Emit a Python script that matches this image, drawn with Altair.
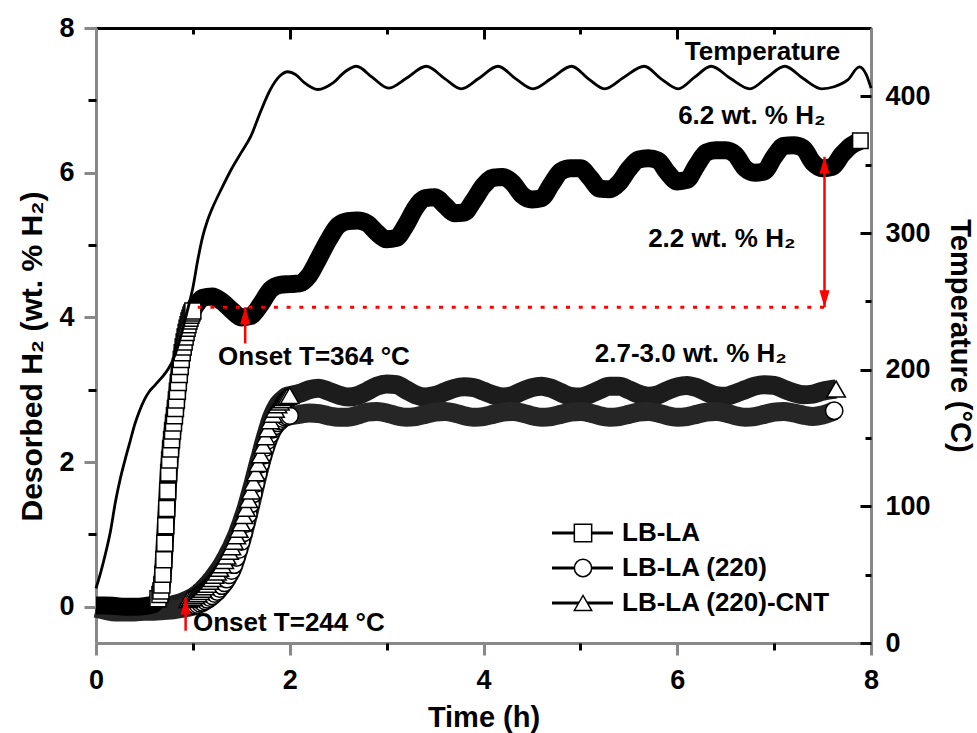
import altair as alt
import pandas as pd

# ---------------- data ----------------
temp_t = [0.0, 0.05, 0.1, 0.15, 0.2, 0.25, 0.3, 0.35, 0.4, 0.45, 0.5, 0.55, 0.6, 0.65, 0.7, 0.75,
          0.8, 0.85, 0.9, 0.95, 1.0, 1.05, 1.1, 1.15, 1.2, 1.3, 1.4, 1.5, 1.6, 1.7, 1.8, 1.9, 1.98,
          2.06, 2.15, 2.29, 2.45, 2.57, 2.69, 2.85, 3.02, 3.2, 3.41, 3.6, 3.77, 3.95, 4.15, 4.33,
          4.51, 4.7, 4.91, 5.08, 5.25, 5.45, 5.66, 5.83, 6.01, 6.18, 6.35, 6.55, 6.75, 6.93, 7.11,
          7.3, 7.49, 7.62, 7.76, 7.88, 7.95, 8.0]
temp_c = [40, 52, 66, 82, 103, 120, 134, 147, 160, 170, 178, 184, 188, 192, 196, 201,
          208, 218, 231, 245, 260, 280, 297, 309, 318, 333, 347, 359, 371, 389, 405, 415, 418,
          416, 410, 405, 410, 418, 422, 414, 406, 413, 422, 413, 405.5, 413, 422, 413,
          405.5, 413, 422, 413, 405.5, 414, 422, 413, 405.5, 414, 422, 413, 405.5, 414, 422,
          413, 405.5, 407, 412, 421.5, 416, 406]

lbla_t = [0.0, 0.1, 0.2, 0.3, 0.4, 0.5, 0.6, 0.62, 0.64, 0.66,
          0.67, 0.68, 0.69, 0.70, 0.71, 0.72, 0.73, 0.74, 0.75, 0.76, 0.77, 0.78, 0.79, 0.80,
          0.81, 0.82, 0.83, 0.84, 0.85, 0.86, 0.87, 0.88, 0.89, 0.90, 0.91, 0.92, 0.93, 0.94,
          0.95, 0.96, 0.97, 0.98, 0.99, 1.0,
          1.05, 1.1, 1.2, 1.3, 1.4, 1.5,
          1.6, 1.7, 1.8, 1.9, 2.0, 2.1, 2.2, 2.3, 2.4, 2.5, 2.6, 2.7, 2.8, 2.9, 3.0, 3.1, 3.2,
          3.3, 3.4, 3.5, 3.6, 3.7, 3.8, 3.9, 4.0, 4.1, 4.2, 4.3, 4.4, 4.5, 4.6, 4.7, 4.8, 4.9,
          5.0, 5.1, 5.2, 5.3, 5.4, 5.5, 5.6, 5.7, 5.8, 5.9, 6.0, 6.1, 6.2, 6.3, 6.4, 6.5, 6.6,
          6.7, 6.8, 6.9, 7.0, 7.1, 7.2, 7.3, 7.4, 7.5, 7.6, 7.7, 7.8, 7.89]
lbla_y = [0.02, 0.02, 0.01, 0.0, 0.0, 0.01, 0.04, 0.07, 0.11, 0.17,
          0.22, 0.3, 0.45, 0.65, 0.88, 1.12, 1.36, 1.6, 1.85, 2.03, 2.18, 2.31, 2.43, 2.54,
          2.64, 2.74, 2.86, 2.98, 3.1, 3.21, 3.32, 3.42, 3.51, 3.59, 3.66, 3.73, 3.79, 3.85,
          3.9, 3.95, 3.99, 4.03, 4.06, 4.09,
          4.2, 4.27, 4.29, 4.22, 4.1, 4.0,
          4.02, 4.18, 4.38, 4.45, 4.46, 4.47, 4.58, 4.82, 5.07, 5.27, 5.33, 5.34, 5.3, 5.17, 5.08,
          5.1, 5.28, 5.52, 5.65, 5.66, 5.55, 5.44, 5.45, 5.62, 5.82, 5.93, 5.94, 5.86, 5.69, 5.63,
          5.65, 5.84, 6.02, 6.06, 6.06, 5.93, 5.78, 5.77, 5.86, 6.05, 6.18, 6.2, 6.17, 6.0, 5.88,
          5.9, 6.1, 6.28, 6.31, 6.31, 6.25, 6.06, 6.0, 6.02, 6.22, 6.37, 6.38, 6.34, 6.14, 6.06,
          6.08, 6.25, 6.38, 6.44]

s220_t = [0.0, 0.1, 0.2, 0.3, 0.4, 0.5, 0.6, 0.7, 0.8, 0.9, 0.95,
          1.0, 1.025, 1.05, 1.075, 1.1, 1.125, 1.15, 1.175, 1.2, 1.225, 1.25, 1.275, 1.3, 1.325,
          1.35, 1.375, 1.4, 1.425, 1.45, 1.475, 1.5, 1.525, 1.55, 1.575, 1.6, 1.625, 1.65, 1.675,
          1.7, 1.725, 1.75, 1.775, 1.8, 1.825, 1.85, 1.875, 1.9, 1.925, 1.95, 1.975, 2.0,
          2.1, 2.2, 2.3, 2.4, 2.5, 2.6, 2.7, 2.8, 2.9, 3.0, 3.1, 3.2, 3.3, 3.4, 3.5, 3.6, 3.7, 3.8,
          3.9, 4.0, 4.1, 4.2, 4.3, 4.4, 4.5, 4.6, 4.7, 4.8, 4.9, 5.0, 5.1, 5.2, 5.3, 5.4, 5.5,
          5.6, 5.7, 5.8, 5.9, 6.0, 6.1, 6.2, 6.3, 6.4, 6.5, 6.6, 6.7, 6.8, 6.9, 7.0, 7.1, 7.2,
          7.3, 7.4, 7.5, 7.62]
s220_y = [-0.02, -0.05, -0.07, -0.07, -0.07, -0.06, -0.06, -0.05, -0.04, -0.02, -0.005,
          0.01, 0.02, 0.03, 0.045, 0.06, 0.08, 0.1, 0.125, 0.15, 0.18, 0.21, 0.25, 0.29, 0.33,
          0.38, 0.44, 0.5, 0.58, 0.68, 0.79, 0.9, 1.02, 1.15, 1.28, 1.42, 1.56, 1.7, 1.84,
          1.97, 2.09, 2.2, 2.3, 2.38, 2.45, 2.5, 2.54, 2.57, 2.6, 2.62, 2.63, 2.64,
          2.66, 2.68, 2.67, 2.64, 2.62, 2.62, 2.65, 2.69, 2.7, 2.68, 2.64, 2.62, 2.63, 2.66, 2.69,
          2.7, 2.68, 2.64, 2.62, 2.63, 2.66, 2.69, 2.7, 2.68, 2.64, 2.62, 2.63, 2.66, 2.69, 2.7,
          2.68, 2.64, 2.62, 2.63, 2.66, 2.69, 2.7, 2.68, 2.64, 2.62, 2.63, 2.66, 2.69, 2.7, 2.68,
          2.64, 2.62, 2.63, 2.66, 2.69, 2.7, 2.68, 2.65, 2.63, 2.65, 2.71]

cnt_t = [0.0, 0.1, 0.2, 0.3, 0.4, 0.5, 0.6, 0.7, 0.8,
         0.9, 0.925, 0.95, 0.975, 1.0, 1.025, 1.05, 1.075, 1.1, 1.125, 1.15, 1.175, 1.2, 1.225,
         1.25, 1.275, 1.3, 1.325, 1.35, 1.375, 1.4, 1.425, 1.45, 1.475, 1.5, 1.525, 1.55, 1.575,
         1.6, 1.625, 1.65, 1.675, 1.7, 1.725, 1.75, 1.775, 1.8, 1.825, 1.85, 1.875, 1.9, 1.925,
         1.95, 1.975, 2.0,
         2.1, 2.2, 2.3, 2.4, 2.5, 2.6, 2.7, 2.8, 2.9, 3.0, 3.1, 3.2, 3.3, 3.4, 3.5, 3.6, 3.7,
         3.8, 3.9, 4.0, 4.1, 4.2, 4.3, 4.4, 4.5, 4.6, 4.7, 4.8, 4.9, 5.0, 5.1, 5.2, 5.3, 5.4,
         5.5, 5.6, 5.7, 5.8, 5.9, 6.0, 6.1, 6.2, 6.3, 6.4, 6.5, 6.6, 6.7, 6.8, 6.9, 7.0, 7.1,
         7.2, 7.3, 7.4, 7.5, 7.64]
cnt_y = [0.0, -0.02, -0.03, -0.03, -0.03, -0.03, -0.02, 0.0, 0.03,
         0.07, 0.085, 0.1, 0.115, 0.13, 0.155, 0.18, 0.21, 0.24, 0.275, 0.31, 0.35, 0.39, 0.435,
         0.48, 0.53, 0.58, 0.64, 0.7, 0.765, 0.83, 0.905, 0.98, 1.07, 1.16, 1.26, 1.36, 1.48,
         1.6, 1.72, 1.85, 1.98, 2.1, 2.23, 2.35, 2.46, 2.57, 2.66, 2.73, 2.79, 2.83, 2.86,
         2.89, 2.91, 2.92,
         2.95, 3.0, 3.02, 2.98, 2.93, 2.9, 2.92, 2.98, 3.05, 3.08, 3.07, 3.0, 2.93, 2.9, 2.92,
         2.97, 3.02, 3.04, 3.03, 2.98, 2.93, 2.9, 2.92, 2.98, 3.03, 3.05, 3.02, 2.96, 2.91, 2.9,
         2.94, 3.0, 3.05, 3.05, 3.0, 2.94, 2.91, 2.93, 2.99, 3.04, 3.06, 3.03, 2.97, 2.92, 2.91,
         2.95, 3.0, 3.05, 3.07, 3.06, 3.01, 2.96, 2.93, 2.94, 2.98, 3.01]

x_major = [0, 2, 4, 6, 8]
x_minor = [1, 3, 5, 7]
yl_major = [0, 2, 4, 6, 8]
yl_minor = [1, 3, 5, 7]
yr_major = [0, 100, 200, 300, 400]
yr_minor = [50, 150, 250, 350]

legend_labels = ["LB-LA", "LB-LA (220)", "LB-LA (220)-CNT"]
legend_shapes = ["square", "circle", "triangle-up"]
legend_rows = [0, 1, 2]

ann_text = ["Temperature", "6.2 wt. % H\u2082", "2.2 wt. % H\u2082", "2.7-3.0 wt. % H\u2082",
            "Onset T=364 \u00b0C", "Onset T=244 \u00b0C"]
ann_t = [6.88, 6.77, 6.46, 6.14, 2.25, 1.99]
ann_y = [7.67, 6.78, 5.08, 3.5, 3.45, -0.22]

onset_line_t = [1.05, 7.58]
onset_line_y = [4.14]

arrow_t = [1.54, 0.925, 7.52]
arrow_from = [3.64, -0.33, 4.14]
arrow_to = [4.14, 0.13, 6.22]
head_t = [1.54, 0.925, 7.52, 7.52]
head_y = [4.14, 0.13, 6.22, 4.14]
head_dir = ["up", "up", "up", "down"]

# ---------------- tables ----------------
temp_df = pd.DataFrame({"t": temp_t, "c": temp_c})
lbla_df = pd.DataFrame({"t": lbla_t, "y": lbla_y})
s220_df = pd.DataFrame({"t": s220_t, "y": s220_y})
cnt_df = pd.DataFrame({"t": cnt_t, "y": cnt_y})
leg_df = pd.DataFrame({"label": legend_labels, "row": legend_rows})
ann_df = pd.DataFrame({"label": ann_text, "t": ann_t, "y": ann_y})
dot_df = pd.DataFrame({"t": [onset_line_t[0]], "t2": [onset_line_t[1]], "y": onset_line_y})
arr_df = pd.DataFrame({"t": arrow_t, "y": arrow_from, "y2": arrow_to})
head_df = pd.DataFrame({"t": head_t, "y": head_y, "dir": head_dir})

FONT = "Liberation Sans"
W, H = 775, 615

XS = alt.Scale(domain=[0, 8], nice=False, zero=False)
YLS = alt.Scale(domain=[-0.5, 8], nice=False, zero=False)
YRS = alt.Scale(domain=[0, 450], nice=False, zero=False)


def X(axis, field="t:Q"):
    return alt.X(field, scale=XS, axis=axis)


def YL(axis, field="y:Q"):
    return alt.Y(field, scale=YLS, axis=axis)


def YR(axis, field="c:Q"):
    return alt.Y(field, scale=YRS, axis=axis)


def tick_axis(orient, values, size, domain=False, offset=0):
    return alt.Axis(orient=orient, values=values, tickSize=size, tickWidth=3, tickColor="black",
                    labels=False, domain=domain, domainWidth=3, domainColor="black",
                    grid=False, offset=offset, title="")


AX_BOTTOM = alt.Axis(orient="bottom", values=x_major, format="d", title="Time (h)",
                     tickSize=12, tickWidth=3, domain=True, domainWidth=3, labelPadding=12,
                     titlePadding=10, labelFlush=False, labelOverlap=False, grid=False)
AX_BOTTOM_MINOR = tick_axis("bottom", x_minor, 7)
AX_TOP = tick_axis("bottom", x_major, 11, domain=True, offset=-H)
AX_TOP_MINOR = tick_axis("bottom", x_minor, 6, offset=-H)
AX_LEFT = alt.Axis(orient="left", values=yl_major, format="d", title="Desorbed H\u2082 (wt. % H\u2082)",
                   tickSize=12, tickWidth=3, domain=True, domainWidth=3, labelPadding=10,
                   titlePadding=11, titleFontSize=30, titleY=328,
                   labelFlush=False, labelOverlap=False, grid=False)
AX_LEFT_MINOR = tick_axis("left", yl_minor, 8)
AX_RIGHT = alt.Axis(orient="right", values=yr_major, format="d", title="Temperature (\u00b0C)",
                    ticks=False, tickSize=0, domain=True, domainWidth=3, labelPadding=14,
                    titlePadding=14, labelFlush=False, labelOverlap=False, grid=False)
AX_RIGHT_IN = tick_axis("left", yr_major, 11, offset=-W)
AX_RIGHT_IN_MINOR = tick_axis("left", yr_minor, 6, offset=-W)

band = dict(interpolate="monotone", strokeCap="butt", strokeJoin="round")

cnt_band = alt.Chart(cnt_df).mark_line(color="#1c1c1c", strokeWidth=19, **band).encode(
    x=X(None), y=YL(None))
s220_band = alt.Chart(s220_df).mark_line(color="#262626", strokeWidth=19, **band).encode(
    x=X(None), y=YL(None))
lbla_band = alt.Chart(lbla_df).mark_line(color="black", strokeWidth=18, **band).encode(
    x=X(AX_BOTTOM), y=YL(AX_LEFT))

open_pt = dict(filled=True, fill="white", stroke="black", strokeWidth=1.5, opacity=1)

s220_rise = alt.Chart(s220_df).transform_filter("datum.t >= 1.0 && datum.t <= 2.0").mark_point(
    shape="circle", size=290, **open_pt).encode(x=X(None), y=YL(None))
cnt_rise = alt.Chart(cnt_df).transform_filter("datum.t >= 0.95 && datum.t <= 2.0").mark_point(
    shape="triangle-up", size=330, **open_pt).encode(x=X(None), y=YL(None))
lbla_rise = alt.Chart(lbla_df).transform_filter("datum.t >= 0.64 && datum.t <= 1.0").mark_point(
    shape="square", size=256, **open_pt).encode(x=X(None), y=YL(None))


def end_marker(df, shape, size):
    return alt.Chart(df).transform_joinaggregate(tmax="max(t)").transform_filter(
        "datum.t == datum.tmax").mark_point(shape=shape, size=size, **open_pt).encode(
        x=X(None), y=YL(None))


ends = [end_marker(lbla_df, "square", 240), end_marker(s220_df, "circle", 300),
        end_marker(cnt_df, "triangle-up", 340)]

minor_carrier = alt.Chart(lbla_df).mark_point(opacity=0).encode(
    x=X(AX_BOTTOM_MINOR), y=YL(AX_LEFT_MINOR))

temp_line = alt.Chart(temp_df).mark_line(color="black", strokeWidth=2.8, interpolate="monotone").encode(
    x=X(None), y=YR(AX_RIGHT))
temp_carrier = alt.Chart(temp_df).mark_point(opacity=0).encode(
    x=X(AX_TOP), y=YR(AX_RIGHT_IN))
temp_carrier2 = alt.Chart(temp_df).mark_point(opacity=0).encode(
    x=X(AX_TOP_MINOR), y=YR(AX_RIGHT_IN_MINOR))

dotted = alt.Chart(dot_df).mark_rule(color="red", strokeWidth=3, strokeDash=[4, 8.7]).encode(
    x=X(None), x2="t2:Q", y=YL(None))
shafts = alt.Chart(arr_df).mark_rule(color="red", strokeWidth=2.5).encode(
    x=X(None), y=YL(None), y2="y2:Q")
UP = "M0,0 L0.6,2 L-0.6,2 Z"
DOWN = "M0,0 L0.6,-2 L-0.6,-2 Z"
heads = alt.Chart(head_df).mark_point(filled=True, color="red", size=289, opacity=1, strokeWidth=0).encode(
    x=X(None), y=YL(None),
    shape=alt.Shape("dir:N", scale=alt.Scale(domain=["up", "down"], range=[UP, DOWN]), legend=None))

texts = alt.Chart(ann_df).mark_text(font=FONT, fontSize=26, fontWeight="bold", color="black",
                                    align="center", baseline="middle").encode(
    x=X(None), y=YL(None), text="label:N")

LEG_Y = alt.Y("row:Q", scale=alt.Scale(domain=[0, 2], range=[505, 575]), axis=None)
leg_lines = alt.Chart(leg_df).mark_rule(color="black", strokeWidth=3).encode(
    x=alt.value(456), x2=alt.value(517), y=LEG_Y)
leg_marks = alt.Chart(leg_df).mark_point(size=300, **open_pt).encode(
    x=alt.value(487), y=LEG_Y,
    shape=alt.Shape("label:N", scale=alt.Scale(domain=legend_labels, range=legend_shapes), legend=None))
leg_text = alt.Chart(leg_df).mark_text(font=FONT, fontSize=26, fontWeight="bold", color="black",
                                       align="left", baseline="middle").encode(
    x=alt.value(526), y=LEG_Y, text="label:N")

chart = alt.layer(
    cnt_band, s220_band, lbla_band, s220_rise, cnt_rise, lbla_rise, *ends,
    minor_carrier, temp_line, temp_carrier, temp_carrier2,
    dotted, shafts, heads, texts, leg_lines, leg_marks, leg_text,
).resolve_scale(x="independent", y="independent", shape="independent").properties(
    width=W, height=H,
    padding={"left": 96, "top": 28, "right": 106, "bottom": 90},
    autosize=alt.AutoSizeParams(type="none"),
    background="white",
).configure_view(strokeWidth=0).configure_axis(
    labelFont=FONT, titleFont=FONT, labelFontWeight="bold", titleFontWeight="bold",
    labelFontSize=27, titleFontSize=29, labelColor="black", titleColor="black",
)

chart.save("out.html", embed_options={"renderer": "svg", "actions": False})
